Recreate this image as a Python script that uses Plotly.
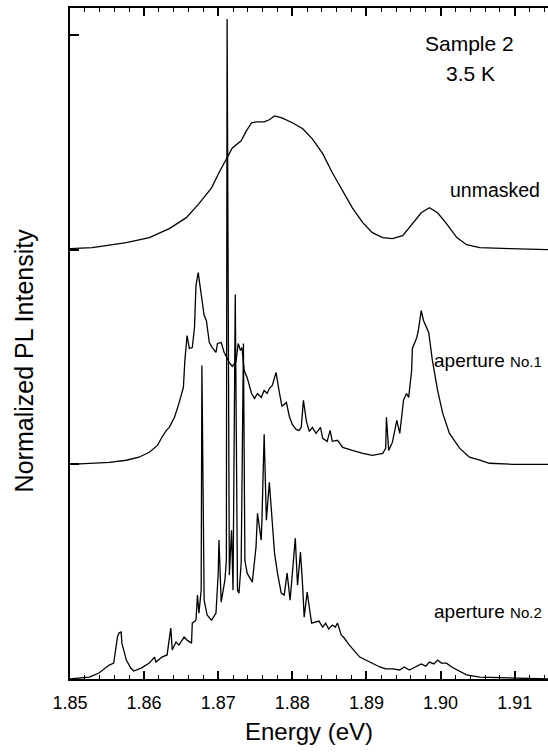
import plotly.graph_objects as go

# ---------------- data ----------------
# aperture No.2 (bottom spectrum), intensity relative to its own baseline
ap2_energy = [1.8500, 1.8526, 1.8539, 1.8553, 1.8559, 1.8564, 1.8566, 1.8569, 1.8570, 1.8576,
              1.8582, 1.8586, 1.8596, 1.8607, 1.8614, 1.8616, 1.8624, 1.8631, 1.8636, 1.8638,
              1.8643, 1.8647, 1.8654, 1.8658, 1.8664, 1.8665, 1.8670, 1.8672, 1.8674, 1.8677,
              1.8678, 1.8681, 1.8685, 1.8691, 1.8697, 1.8700, 1.8701, 1.8704, 1.8709, 1.8711,
              1.8712, 1.8715, 1.8718, 1.8720, 1.8723, 1.8726, 1.8728, 1.8731, 1.8734, 1.8736,
              1.8739, 1.8746, 1.8751, 1.8753, 1.8758, 1.8759, 1.8762, 1.8765, 1.8769, 1.8772,
              1.8776, 1.8780, 1.8785, 1.8789, 1.8793, 1.8797, 1.8800, 1.8804, 1.8807, 1.8811,
              1.8814, 1.8816, 1.8820, 1.8826, 1.8836, 1.8841, 1.8845, 1.8849, 1.8854, 1.8858,
              1.8861, 1.8866, 1.8870, 1.8877, 1.8891, 1.8904, 1.8918, 1.8926, 1.8935, 1.8945,
              1.8951, 1.8958, 1.8969, 1.8974, 1.8980, 1.8985, 1.8991, 1.8996, 1.9001, 1.9008,
              1.9015, 1.9022, 1.9035, 1.9053, 1.9097, 1.9145]
ap2_intensity = [0.000, 0.009, 0.028, 0.065, 0.074, 0.195, 0.214, 0.219, 0.167, 0.088,
                 0.051, 0.037, 0.051, 0.074, 0.102, 0.079, 0.102, 0.112, 0.237, 0.135,
                 0.172, 0.158, 0.195, 0.181, 0.167, 0.260, 0.274, 0.391, 0.307, 0.414,
                 1.460, 0.367, 0.298, 0.274, 0.307, 0.493, 0.647, 0.358, 0.460, 0.553,
                 3.074, 0.484, 0.693, 0.414, 1.791, 0.414, 0.400, 0.540, 1.563, 0.553,
                 0.493, 0.451, 0.614, 0.772, 0.647, 0.740, 1.140, 0.740, 0.916, 0.772,
                 0.586, 0.493, 0.400, 0.391, 0.493, 0.367, 0.507, 0.656, 0.437, 0.591,
                 0.428, 0.288, 0.405, 0.260, 0.270, 0.242, 0.260, 0.233, 0.251, 0.242,
                 0.260, 0.205, 0.191, 0.158, 0.102, 0.079, 0.056, 0.047, 0.047, 0.042,
                 0.056, 0.042, 0.060, 0.070, 0.060, 0.079, 0.070, 0.088, 0.074, 0.074,
                 0.056, 0.042, 0.019, 0.009, 0.005, 0.000]

# aperture No.1 (middle spectrum)
ap1_energy = [1.8500, 1.8526, 1.8553, 1.8576, 1.8593, 1.8607, 1.8618, 1.8624, 1.8630, 1.8634,
              1.8641, 1.8647, 1.8653, 1.8655, 1.8658, 1.8661, 1.8665, 1.8668, 1.8670, 1.8673,
              1.8674, 1.8677, 1.8681, 1.8684, 1.8688, 1.8692, 1.8697, 1.8699, 1.8704, 1.8708,
              1.8712, 1.8715, 1.8719, 1.8724, 1.8727, 1.8730, 1.8732, 1.8735, 1.8739, 1.8745,
              1.8749, 1.8753, 1.8758, 1.8762, 1.8766, 1.8769, 1.8773, 1.8778, 1.8782, 1.8786,
              1.8792, 1.8796, 1.8800, 1.8805, 1.8809, 1.8812, 1.8815, 1.8819, 1.8823, 1.8827,
              1.8832, 1.8838, 1.8841, 1.8847, 1.8851, 1.8854, 1.8861, 1.8868, 1.8881, 1.8895,
              1.8908, 1.8922, 1.8926, 1.8927, 1.8930, 1.8935, 1.8941, 1.8945, 1.8950, 1.8954,
              1.8957, 1.8961, 1.8962, 1.8968, 1.8970, 1.8974, 1.8977, 1.8981, 1.8984, 1.8989,
              1.8996, 1.9003, 1.9012, 1.9026, 1.9039, 1.9053, 1.9066, 1.9097, 1.9145]
ap1_intensity = [0.000, 0.005, 0.009, 0.019, 0.033, 0.056, 0.088, 0.126, 0.158, 0.172,
                 0.219, 0.284, 0.358, 0.484, 0.600, 0.540, 0.544, 0.637, 0.833, 0.893,
                 0.865, 0.795, 0.693, 0.670, 0.567, 0.544, 0.521, 0.563, 0.567, 0.521,
                 0.493, 0.474, 0.456, 0.479, 0.563, 0.530, 0.544, 0.437, 0.405, 0.330,
                 0.307, 0.330, 0.312, 0.344, 0.330, 0.353, 0.367, 0.428, 0.344, 0.270,
                 0.288, 0.223, 0.186, 0.163, 0.158, 0.172, 0.298, 0.200, 0.153, 0.172,
                 0.144, 0.172, 0.121, 0.107, 0.158, 0.107, 0.112, 0.079, 0.065, 0.051,
                 0.042, 0.051, 0.074, 0.219, 0.065, 0.102, 0.205, 0.144, 0.298, 0.330,
                 0.312, 0.437, 0.540, 0.591, 0.623, 0.716, 0.670, 0.637, 0.614, 0.484,
                 0.344, 0.237, 0.144, 0.074, 0.033, 0.019, 0.005, 0.000, 0.000]

# unmasked (top spectrum)
unm_energy = [1.8500, 1.8530, 1.8576, 1.8607, 1.8634, 1.8657, 1.8674, 1.8691, 1.8701, 1.8711,
              1.8719, 1.8731, 1.8738, 1.8745, 1.8751, 1.8762, 1.8769, 1.8776, 1.8786, 1.8800,
              1.8814, 1.8827, 1.8841, 1.8854, 1.8868, 1.8881, 1.8895, 1.8908, 1.8922, 1.8935,
              1.8949, 1.8962, 1.8974, 1.8985, 1.8996, 1.9008, 1.9022, 1.9035, 1.9053, 1.9093,
              1.9145]
unm_intensity = [0.005, 0.009, 0.033, 0.056, 0.098, 0.149, 0.214, 0.288, 0.358, 0.423,
                 0.474, 0.507, 0.553, 0.591, 0.595, 0.595, 0.605, 0.623, 0.614, 0.591,
                 0.563, 0.516, 0.447, 0.358, 0.274, 0.195, 0.126, 0.079, 0.056, 0.051,
                 0.065, 0.121, 0.172, 0.195, 0.172, 0.121, 0.056, 0.023, 0.009, 0.005,
                 0.000]

series_names = ["aperture No.2", "aperture No.1", "unmasked"]
series_offsets = [0.0, 1.0, 2.0]

x_ticks = [1.85, 1.86, 1.87, 1.88, 1.89, 1.90, 1.91]
x_tick_labels = ["1.85", "1.86", "1.87", "1.88", "1.89", "1.90", "1.91"]
y_ticks = [1, 2, 3]

# ---------------- figure ----------------
FONT = "Liberation Sans, Arial, Helvetica, sans-serif"
fig = go.Figure()
for name, en, inten, off in zip(series_names,
                                [ap2_energy, ap1_energy, unm_energy],
                                [ap2_intensity, ap1_intensity, unm_intensity],
                                series_offsets):
    fig.add_trace(go.Scatter(x=en, y=[v + off for v in inten], mode="lines", name=name,
                             line=dict(color="black", width=1.3), showlegend=False))

ann_font = dict(family=FONT, size=19, color="black")
fig.add_annotation(x=1.9039, y=2.958, text="Sample 2", showarrow=False,
                   font=dict(family=FONT, size=21, color="black"),
                   xanchor="center", yanchor="middle")
fig.add_annotation(x=1.9041, y=2.819, text="3.5 K", showarrow=False,
                   font=dict(family=FONT, size=21, color="black"),
                   xanchor="center", yanchor="middle")
fig.add_annotation(x=1.9137, y=2.279, text="unmasked", showarrow=False,
                   font=dict(family=FONT, size=19.5, color="black"),
                   xanchor="right", yanchor="middle")
fig.add_annotation(x=1.9140, y=1.484, text="aperture <span style='font-size:15px'>No.1</span>",
                   showarrow=False, font=ann_font, xanchor="right", yanchor="middle")
fig.add_annotation(x=1.9140, y=0.316, text="aperture <span style='font-size:15px'>No.2</span>",
                   showarrow=False, font=ann_font, xanchor="right", yanchor="middle")
# y-axis title, placed where the reference has it
fig.add_annotation(x=-0.096, y=0.475, xref="paper", yref="paper", text="Normalized PL Intensity",
                   textangle=-90, showarrow=False, xanchor="center", yanchor="middle",
                   font=dict(family=FONT, size=25, color="black"))

fig.update_layout(
    width=548, height=755,
    margin=dict(l=70, r=0, t=8, b=76),
    paper_bgcolor="white", plot_bgcolor="white",
    font=dict(family=FONT, color="black"),
    xaxis=dict(
        range=[1.85, 1.9145], tickvals=x_ticks, ticktext=x_tick_labels,
        ticks="inside", ticklen=8, tickwidth=1.5, tickcolor="black",
        minor=dict(dtick=0.002, tick0=1.85, ticks="inside", ticklen=4, tickwidth=1.2, tickcolor="black"),
        showline=True, linewidth=2, linecolor="black", mirror="ticks",
        showgrid=False, zeroline=False,
        ticklabelstandoff=6,
        tickfont=dict(family=FONT, size=18, color="black"),
        title=dict(text="Energy (eV)", font=dict(family=FONT, size=24, color="black"), standoff=12),
    ),
    yaxis=dict(
        range=[0, 3.1256], tickvals=y_ticks, showticklabels=False,
        ticks="inside", ticklen=9, tickwidth=1.5, tickcolor="black",
        showline=True, linewidth=2, linecolor="black", mirror=False,
        showgrid=False, zeroline=False,
    ),
)

fig.write_html("out.html")
